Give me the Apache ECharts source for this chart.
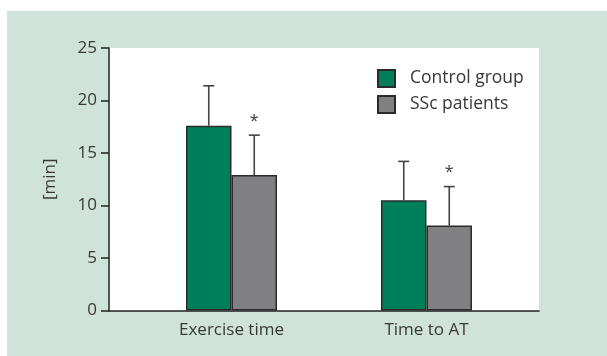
<!DOCTYPE html>
<html>
<head>
<meta charset="utf-8">
<script src="https://cdn.jsdelivr.net/npm/echarts@6/dist/echarts.min.js"></script>
<style>
html,body{margin:0;padding:0;background:#fff;}
#chart{width:607px;height:356px;}
</style>
</head>
<body>
<div id="chart"></div>
<script>
// ---- data ----
var categories = ['Exercise time', 'Time to AT'];
var seriesNames = ['Control group', 'SSc patients'];
var controlMean = [17.6, 10.5];
var controlErr = [3.8, 3.7];
var sscMean = [12.9, 8.1];
var sscErr = [3.8, 3.7];
var sscMarks = ['*', '*'];
var yTicks = [0, 5, 10, 15, 20, 25];

var FONT = '"Open Sans", "Noto Sans", sans-serif';
var TEXT = '#383838';
var GREEN = '#00805a';
var GRAY = '#808082';
var BAR_W = 45.5;

function errData(means, errs, marks) {
  return means.map(function (m, i) { return [i, m, errs[i], marks ? marks[i] : '']; });
}

function makeErrRender(side) {
  return function (params, api) {
    var cat = api.value(0), m = api.value(1), e = api.value(2);
    var mark = api.value(3);
    var base = api.coord([cat, m]);
    var top = api.coord([cat, m + e]);
    var x = base[0] + side * BAR_W / 2;
    var cap = 5.5;
    var style = { stroke: '#444', lineWidth: 1.6 };
    var children = [
      { type: 'line', shape: { x1: x, y1: base[1], x2: x, y2: top[1] }, style: style },
      { type: 'line', shape: { x1: x - cap, y1: top[1], x2: x + cap, y2: top[1] }, style: style }
    ];
    if (mark) {
      children.push({
        type: 'text',
        style: { text: mark, x: x, y: top[1] - 14, align: 'center', verticalAlign: 'middle',
                 font: '16px ' + FONT, fill: TEXT }
      });
    }
    return { type: 'group', children: children };
  };
}

var chart = echarts.init(document.getElementById('chart'), null, { renderer: 'canvas' });
chart.setOption({
  animation: false,
  backgroundColor: '#fff',
  graphic: [{
    type: 'rect', z: -10, silent: true,
    shape: { x: 7, y: 11, width: 600, height: 345 },
    style: { fill: '#cfe3da' }
  }],
  textStyle: { fontFamily: FONT, color: TEXT },
  legend: {
    orient: 'vertical', left: 372, top: 64,
    itemWidth: 17, itemHeight: 17, itemGap: 7,
    icon: 'rect',
    data: seriesNames,
    textStyle: { fontSize: 17.5, color: TEXT, fontFamily: FONT, padding: [0, 0, 0, 10] }
  },
  grid: [
    { left: 109, top: 48, width: 430, height: 262.5, show: true, backgroundColor: '#fff', borderWidth: 0 },
    { left: 134, top: 48, width: 390, height: 262.5 }
  ],
  xAxis: [
    { gridIndex: 0, type: 'value', min: 0, max: 1,
      axisLine: { show: true, lineStyle: { color: '#222', width: 1.5 } },
      axisTick: { show: false }, axisLabel: { show: false }, splitLine: { show: false } },
    { gridIndex: 1, type: 'category', data: categories,
      axisLine: { show: false }, axisTick: { show: false },
      axisLabel: { fontSize: 17, color: TEXT, fontFamily: FONT, margin: 11 } }
  ],
  yAxis: [
    { gridIndex: 0, type: 'value', min: 0, max: 25, interval: 5,
      name: '[min]', nameLocation: 'middle', nameGap: 50, nameRotate: 90,
      nameTextStyle: { fontSize: 17, color: TEXT, fontFamily: FONT },
      axisLine: { show: true, lineStyle: { color: '#222', width: 1.5 } },
      axisTick: { show: true, inside: false, length: 8, lineStyle: { color: '#222', width: 1.5 } },
      axisLabel: { fontSize: 17, color: TEXT, fontFamily: FONT, margin: 12,
        formatter: function (v) { return yTicks.indexOf(v) >= 0 ? String(v) : ''; } },
      splitLine: { show: false } },
    { gridIndex: 1, type: 'value', min: 0, max: 25, show: false, splitLine: { show: false } }
  ],
  series: [
    { name: seriesNames[0], type: 'bar', xAxisIndex: 1, yAxisIndex: 1, data: controlMean,
      barWidth: BAR_W, barGap: '0%',
      itemStyle: { color: GREEN, borderColor: '#2a2a2a', borderWidth: 1.5 } },
    { name: seriesNames[1], type: 'bar', xAxisIndex: 1, yAxisIndex: 1, data: sscMean,
      barWidth: BAR_W, barGap: '0%',
      itemStyle: { color: GRAY, borderColor: '#2a2a2a', borderWidth: 1.5 } },
    { type: 'custom', xAxisIndex: 1, yAxisIndex: 1, z: 5,
      renderItem: makeErrRender(-1), data: errData(controlMean, controlErr), silent: true },
    { type: 'custom', xAxisIndex: 1, yAxisIndex: 1, z: 5,
      renderItem: makeErrRender(1), data: errData(sscMean, sscErr, sscMarks), silent: true }
  ]
});
</script>
</body>
</html>
